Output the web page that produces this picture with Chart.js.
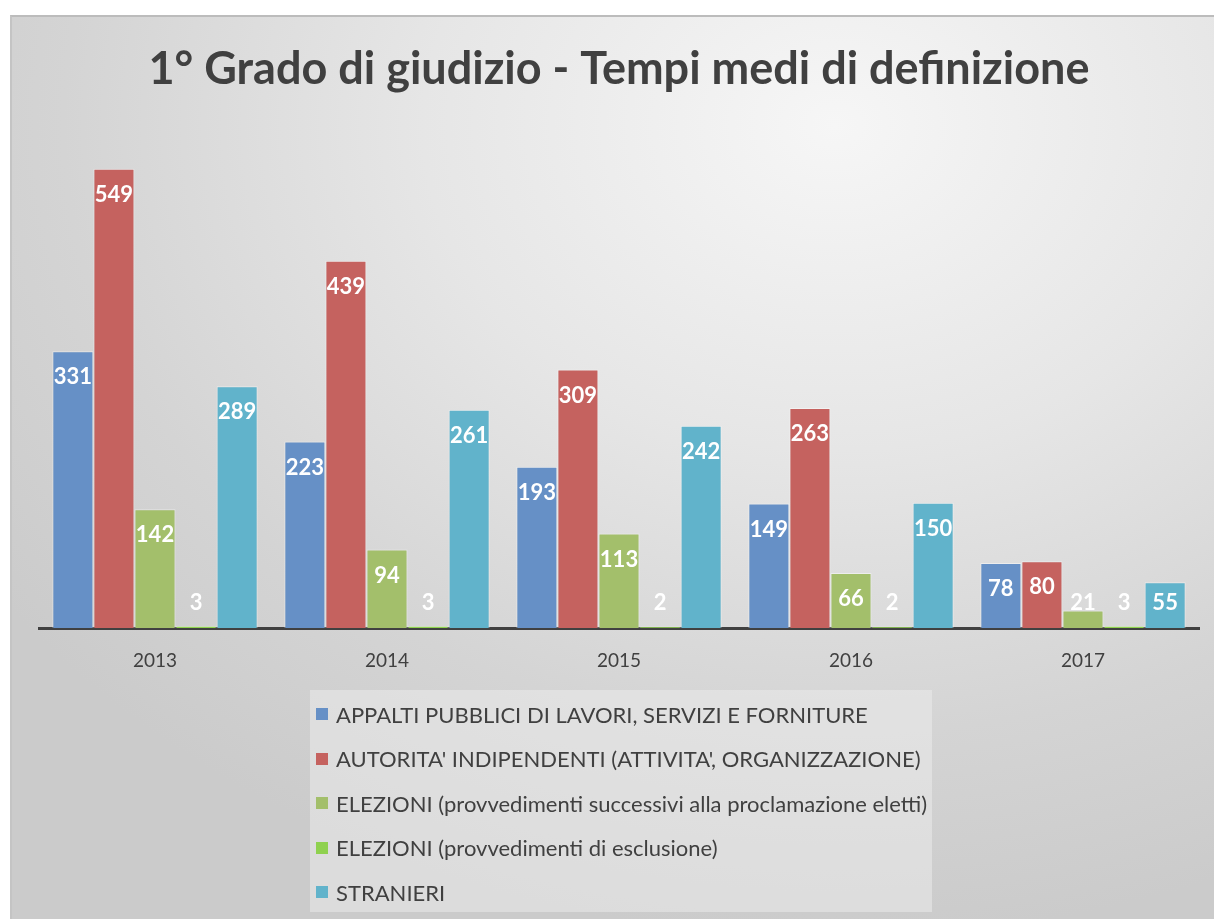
<!DOCTYPE html>
<html>
<head>
<meta charset="utf-8">
<script src="https://cdn.jsdelivr.net/npm/chart.js@4"></script>
<style>
  html, body { margin: 0; padding: 0; background: #fff; }
  body { width: 1214px; height: 919px; position: relative; overflow: hidden; font-family: Lato, "Open Sans", sans-serif; }
  #frame {
    position: absolute; left: 10px; top: 15px; width: 1210px; height: 902px;
    border-top: 2px solid #bcbcbc; border-left: 2px solid #c4c4c4;
    background: radial-gradient(ellipse 85% 90% at 68% 12%, #f6f6f6 0%, #e6e6e6 40%, #d4d4d4 75%, #cbcbcb 100%);
  }
  #wrap { position: absolute; left: 0; top: 0; width: 1214px; height: 919px; }
  #legend {
    position: absolute; left: 310px; top: 690px; width: 622px; height: 222px;
    background: rgba(235, 235, 235, 0.55); box-sizing: border-box; padding-top: 2px;
  }
  .item { display: flex; align-items: center; height: 44.5px; color: #404040; font-size: 22px; white-space: nowrap; }
  .sw { width: 12px; height: 12px; margin: 0 8px 0 6px; }
</style>
</head>
<body>
<div id="frame"></div>
<div id="wrap"><canvas id="chart" width="1214" height="919"></canvas></div>
<div id="legend"></div>
<script>
const years = ['2013', '2014', '2015', '2016', '2017'];

const appalti = [331, 223, 193, 149, 78];
const autorita = [549, 439, 309, 263, 80];
const elezioniSucc = [142, 94, 113, 66, 21];
const elezioniEscl = [3, 3, 2, 2, 3];
const stranieri = [289, 261, 242, 150, 55];

const seriesNames = [
  'APPALTI PUBBLICI DI LAVORI, SERVIZI E FORNITURE',
  "AUTORITA' INDIPENDENTI (ATTIVITA', ORGANIZZAZIONE)",
  'ELEZIONI (provvedimenti successivi alla proclamazione eletti)',
  'ELEZIONI (provvedimenti di esclusione)',
  'STRANIERI'
];
const seriesColors = ['#6690c6', '#c5625f', '#a3bf6b', '#8fd14f', '#61b3cb'];
const seriesData = [appalti, autorita, elezioniSucc, elezioniEscl, stranieri];

// white value labels at the top inside each bar, kept above the axis
const valueLabels = {
  id: 'valueLabels',
  afterDatasetsDraw(chart) {
    const ctx = chart.ctx;
    const base = chart.scales.y.getPixelForValue(0);
    ctx.save();
    ctx.font = 'bold 22px Lato, "Open Sans", sans-serif';
    ctx.fillStyle = '#ffffff';
    ctx.textAlign = 'center';
    ctx.textBaseline = 'middle';
    chart.data.datasets.forEach((ds, i) => {
      chart.getDatasetMeta(i).data.forEach((bar, j) => {
        const y = Math.min(bar.y + 26, base - 25);
        ctx.fillText(String(ds.data[j]), bar.x, y);
      });
    });
    ctx.restore();
  }
};

const ctx = document.getElementById('chart').getContext('2d');
const chart = new Chart(ctx, {
  type: 'bar',
  data: {
    labels: years,
    datasets: seriesData.map((d, i) => ({
      label: seriesNames[i],
      data: d,
      backgroundColor: seriesColors[i],
      borderColor: 'rgba(255,255,255,0.45)',
      borderWidth: 1,
      barPercentage: 1.0,
      categoryPercentage: 0.885
    }))
  },
  options: {
    responsive: false,
    animation: false,
    layout: { padding: { left: 39, right: 15, top: 38, bottom: 234 } },
    plugins: {
      legend: { display: false },
      tooltip: { enabled: false },
      title: {
        display: true,
        text: '1° Grado di giudizio - Tempi medi di definizione',
        color: '#404040',
        font: { family: 'Lato, "Open Sans", sans-serif', size: 45, weight: 'bold' },
        padding: { top: 4, bottom: 30 }
      }
    },
    scales: {
      x: {
        grid: { display: false },
        border: { display: true, color: '#404040', width: 3 },
        ticks: { color: '#404040', font: { family: 'Lato, "Open Sans", sans-serif', size: 19 }, padding: 13 }
      },
      y: {
        display: false,
        min: 0,
        max: 600
      }
    }
  },
  plugins: [valueLabels]
});

// legend built from the chart datasets
const legendEl = document.getElementById('legend');
chart.data.datasets.forEach(ds => {
  const row = document.createElement('div');
  row.className = 'item';
  const sw = document.createElement('span');
  sw.className = 'sw';
  sw.style.background = ds.backgroundColor;
  row.appendChild(sw);
  row.appendChild(document.createTextNode(ds.label));
  legendEl.appendChild(row);
});
</script>
</body>
</html>
